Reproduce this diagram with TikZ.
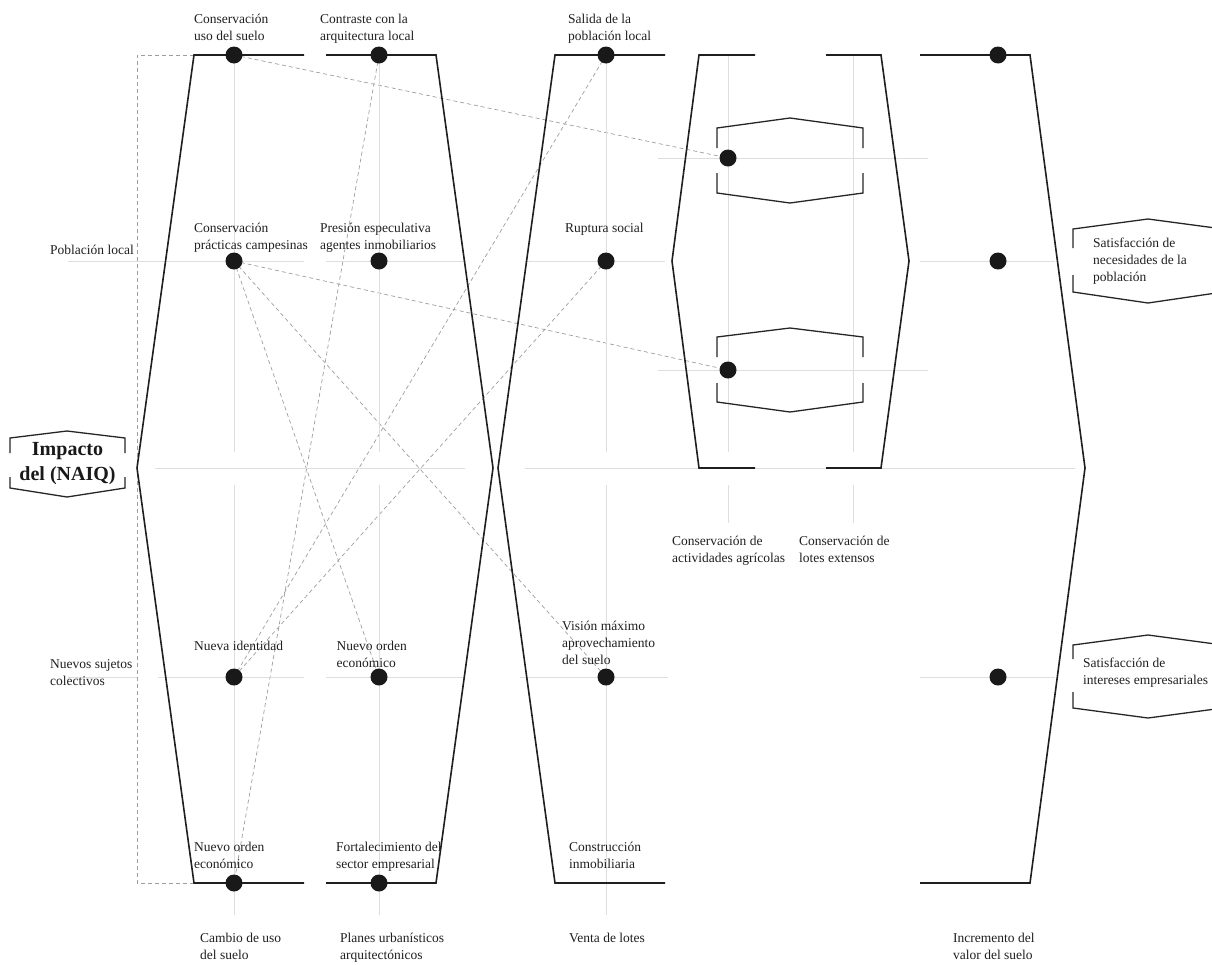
\documentclass[tikz,border=0pt]{standalone}
\usepackage{fontspec}
\setmainfont{Liberation Serif}
\usetikzlibrary{backgrounds}
\newcommand{\lbl}[1]{\begin{tabular}[t]{@{}l@{}}#1\end{tabular}}
\newcommand{\clbl}[1]{\begin{tabular}[t]{@{}c@{}}#1\end{tabular}}
\tikzset{
  frame/.style={line width=1.6pt, draw=black!88, line join=miter},
  hexbox/.style={line width=1.3pt, draw=black!85, line join=miter},
  guide/.style={draw=black!13, line width=0.9pt},
  link/.style={draw=black!38, dash pattern=on 4pt off 3pt, line width=0.7pt},
  dot/.style={circle, fill=black!90, minimum size=17pt, inner sep=0pt},
  lab/.style={anchor=base west, inner sep=0pt, font=\fontsize{13.5}{17}\selectfont, text=black!88},
  title/.style={anchor=base, inner sep=0pt, font=\fontsize{20}{25}\selectfont\bfseries, text=black!90}
}
\begin{document}
\begin{tikzpicture}[x=1pt,y=-1pt]
\useasboundingbox (0,0) rectangle (1212,964);
\clip (0,0) rectangle (1212,964);

% ---------- guide lines ----------
\foreach \x in {234,379,606}{
  \draw[guide] (\x,55) -- (\x,452);
  \draw[guide] (\x,485) -- (\x,915);
}
\foreach \x in {728,853}{
  \draw[guide] (\x,55) -- (\x,452);
  \draw[guide] (\x,485) -- (\x,523);
}
\draw[guide] (155,468) -- (465,468);
\draw[guide] (525,468) -- (1075,468);
\draw[guide] (68,261) -- (304,261);
\draw[guide] (326,261) -- (466,261);
\draw[guide] (525,261) -- (665,261);
\draw[guide] (920,261) -- (1055,261);
\draw[guide] (68,677) -- (137,677);
\draw[guide] (158,677) -- (304,677);
\draw[guide] (326,677) -- (465,677);
\draw[guide] (520,677) -- (668,677);
\draw[guide] (920,677) -- (1055,677);
\draw[guide] (658,158) -- (928,158);
\draw[guide] (658,370) -- (928,370);

% ---------- main frames ----------
\draw[frame] (304,55) -- (194,55) -- (137,468) -- (194,883) -- (304,883);
\draw[frame] (326,55) -- (436,55) -- (493,468) -- (436,883) -- (326,883);
\draw[frame] (665,55) -- (555,55) -- (498,468) -- (555,883) -- (665,883);
\draw[frame] (920,55) -- (1030,55) -- (1085,468) -- (1030,883) -- (920,883);
\draw[frame] (755,55) -- (699,55) -- (672,261) -- (699,468) -- (755,468);
\draw[frame] (826,55) -- (881,55) -- (909,261) -- (881,468) -- (826,468);

% ---------- inner hexagon brackets ----------
\draw[hexbox] (717,148) -- (717,128) -- (790,118) -- (863,128) -- (863,148);
\draw[hexbox] (717,173) -- (717,193) -- (790,203) -- (863,193) -- (863,173);
\draw[hexbox] (717,357) -- (717,337) -- (790,328) -- (863,337) -- (863,357);
\draw[hexbox] (717,383) -- (717,402) -- (790,412) -- (863,402) -- (863,383);

% ---------- label boxes ----------
\draw[hexbox] (10,453) -- (10,438) -- (67,431) -- (125,438) -- (125,453);
\draw[hexbox] (10,477) -- (10,488) -- (67,497) -- (125,488) -- (125,477);
\draw[hexbox] (1073,248) -- (1073,229) -- (1148,219) -- (1223,229) -- (1223,248);
\draw[hexbox] (1073,275) -- (1073,292) -- (1148,303) -- (1223,292) -- (1223,275);
\draw[hexbox] (1073,659) -- (1073,645) -- (1148,635) -- (1223,645) -- (1223,659);
\draw[hexbox] (1073,692) -- (1073,708) -- (1148,718) -- (1223,708) -- (1223,692);

% ---------- dots ----------
\node[dot] (d11) at (234,55) {};
\node[dot] (d12) at (379,55) {};
\node[dot] (d13) at (606,55) {};
\node[dot] (d14) at (998,55) {};
\node[dot] (d21) at (234,261) {};
\node[dot] (d22) at (379,261) {};
\node[dot] (d23) at (606,261) {};
\node[dot] (d24) at (998,261) {};
\node[dot] (ca) at (728,158) {};
\node[dot] (cb) at (728,370) {};
\node[dot] (d31) at (234,677) {};
\node[dot] (d32) at (379,677) {};
\node[dot] (d33) at (606,677) {};
\node[dot] (d34) at (998,677) {};
\node[dot] (d41) at (234,883) {};
\node[dot] (d42) at (379,883) {};
\coordinate (bt) at (194,55);
\coordinate (bb) at (194,883);

% ---------- dashed connectors ----------
\begin{scope}[on background layer]
\draw[link] (bt) -- (137,55) -- (137,883) -- (bb);
\draw[link] (d11.center) -- (ca.center);
\draw[link] (d21.center) -- (cb.center);
\draw[link] (d21.center) -- (d32.center);
\draw[link] (d21.center) -- (d33.center);
\draw[link] (d12.center) -- (d41.center);
\draw[link] (d13.center) -- (d31.center);
\draw[link] (d23.center) -- (d31.center);
\end{scope}

% ---------- texts ----------
\node[title] (imp) at (67.5,455) {\clbl{Impacto\\del (NAIQ)}};

\node[lab] (t11) at (194,23) {\lbl{Conservación\\uso del suelo}};
\node[lab] (t12) at (320,23) {\lbl{Contraste con la\\arquitectura local}};
\node[lab] (t13) at (568,23) {\lbl{Salida de la\\población local}};
\node[lab] (t21) at (194,232) {\lbl{Conservación\\prácticas campesinas}};
\node[lab] (t22) at (320,232) {\lbl{Presión especulativa\\agentes inmobiliarios}};
\node[lab] (t23) at (565,232) {Ruptura social};
\node[lab] (pl) at (50,254) {Población local};
\node[lab] (t31) at (194,650) {Nueva identidad};
\node[lab] (t32) at (336.5,650) {\lbl{Nuevo orden\\económico}};
\node[lab] (t33) at (562,630) {\lbl{Visión máximo\\aprovechamiento\\del suelo}};
\node[lab] (ns) at (50,668) {\lbl{Nuevos sujetos\\colectivos}};
\node[lab] (t41) at (194,851) {\lbl{Nuevo orden\\económico}};
\node[lab] (t42) at (336,851) {\lbl{Fortalecimiento del\\sector empresarial}};
\node[lab] (t43) at (569,851) {\lbl{Construcción\\inmobiliaria}};
\node[lab] (ta) at (672,545) {\lbl{Conservación de\\actividades agrícolas}};
\node[lab] (tb) at (799,545) {\lbl{Conservación de\\lotes extensos}};
\node[lab] (s1) at (1093,247) {\lbl{Satisfacción de\\necesidades de la\\población}};
\node[lab] (s2) at (1083,667) {\lbl{Satisfacción de\\intereses empresariales}};
\node[lab] (b1) at (200,942) {\lbl{Cambio de uso\\del suelo}};
\node[lab] (b2) at (340,942) {\lbl{Planes urbanísticos\\arquitectónicos}};
\node[lab] (b3) at (569,942) {Venta de lotes};
\node[lab] (b4) at (953,942) {\lbl{Incremento del\\valor del suelo}};
\end{tikzpicture}
\end{document}
